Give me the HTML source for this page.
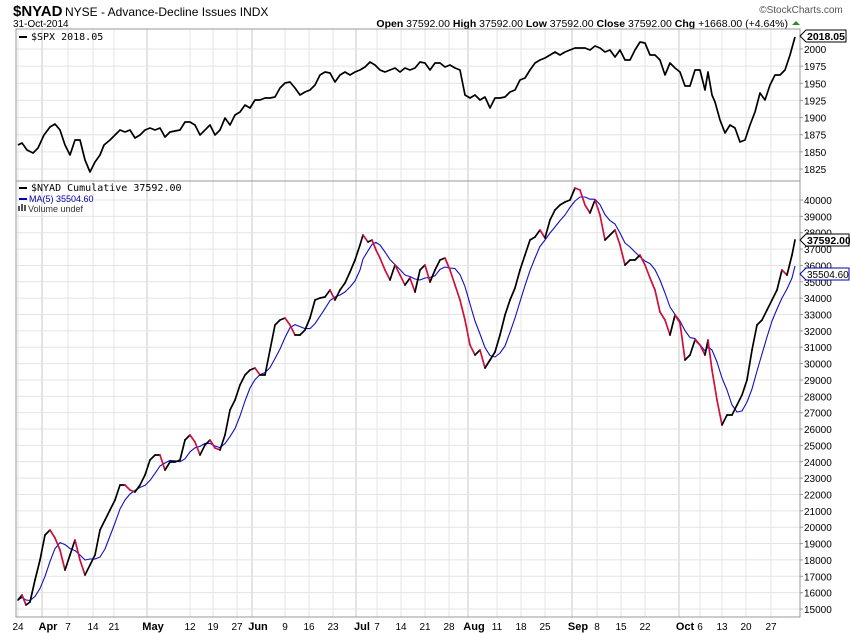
<!DOCTYPE html>
<html><head><meta charset="utf-8"><style>
body{margin:0;background:#fff;width:850px;height:633px;overflow:hidden;font-family:"Liberation Sans",sans-serif}
svg{display:block}
</style></head><body>
<svg id="s" width="850" height="633" xmlns="http://www.w3.org/2000/svg" font-family="Liberation Sans, sans-serif">
<text x="13" y="16" font-size="15" font-weight="bold">$NYAD</text>
<text x="65" y="16" font-size="12">NYSE - Advance-Decline Issues  INDX</text>
<text x="13" y="27" font-size="10">31-Oct-2014</text>
<text x="788" y="27" font-size="10.5" text-anchor="end"><tspan font-weight="bold">Open</tspan> 37592.00  <tspan font-weight="bold">High</tspan> 37592.00  <tspan font-weight="bold">Low</tspan> 37592.00  <tspan font-weight="bold">Close</tspan> 37592.00  <tspan font-weight="bold">Chg</tspan> +1668.00 (+4.64%)</text>
<polygon points="792,25 796,21 800,25" fill="#2a8a2a"/>
<text x="801" y="13" font-size="10" fill="#555" text-anchor="middle">©StockCharts.com</text>
<g id="grid"></g>
<rect x="16" y="29" width="784" height="588" fill="none" stroke="#999"/>
<line x1="16" y1="181" x2="800" y2="181" stroke="#999"/>
<line x1="19" y1="37" x2="27" y2="37" stroke="#000" stroke-width="2"/>
<text x="31" y="40" font-size="10" font-family="DejaVu Sans Mono, monospace">$SPX 2018.05</text>
<g id="series"></g>
<line x1="19" y1="188" x2="27" y2="188" stroke="#000" stroke-width="2"/>
<text x="31" y="191" font-size="10" font-family="DejaVu Sans Mono, monospace">$NYAD Cumulative 37592.00</text>
<line x1="19" y1="199" x2="27" y2="199" stroke="#00a" stroke-width="2"/>
<text x="29" y="202" font-size="9" fill="#00a">MA(5) 35504.60</text>
<rect x="18" y="206" width="2" height="5" fill="#555"/><rect x="21" y="204" width="2" height="7" fill="#555"/><rect x="24" y="205" width="2" height="6" fill="#555"/>
<text x="28" y="212" font-size="9" fill="#333">Volume undef</text>
<g id="axis" font-size="10"></g>
</svg>
<script>
var NS="http://www.w3.org/2000/svg";
function el(p,t,a,txt){var e=document.createElementNS(NS,t);for(var k in a)e.setAttribute(k,a[k]);if(txt!=null)e.textContent=txt;p.appendChild(e);return e;}
var g=document.getElementById('grid'),ax=document.getElementById('axis'),se=document.getElementById('series');
var xl=[[18,"24",0],[48,"Apr",1],[68,"7",0],[93,"14",0],[114,"21",0],[153,"May",1],[190,"12",0],[213,"19",0],[237,"27",0],[258,"Jun",1],[285,"9",0],[309,"16",0],[333,"23",0],[362,"Jul",1],[377,"7",0],[401,"14",0],[425,"21",0],[449,"28",0],[474,"Aug",1],[497,"11",0],[521,"18",0],[545,"25",0],[578,"Sep",1],[597,"8",0],[621,"15",0],[645,"22",0],[685,"Oct",1],[700,"6",0],[722,"13",0],[746,"20",0],[771,"27",0]];
xl.forEach(function(d){var lx=d[2]?d[0]-6:d[0];el(g,'line',{x1:lx,y1:29,x2:lx,y2:617,stroke:d[2]?'#c8c8c8':'#e4e4e4'});
el(ax,'text',{x:d[0],y:630,'text-anchor':'middle','font-weight':d[2]?'bold':'normal','font-size':d[2]?11:10},d[1]);});
for(var v=1825;v<=2000;v+=25){var y=169-(v-1825)*0.686;el(g,'line',{x1:16,y1:y,x2:800,y2:y,stroke:'#e4e4e4'});el(ax,'line',{x1:800,y1:y,x2:803,y2:y,stroke:'#999'});el(ax,'text',{x:804,y:y+4},v);}
for(var v=15000;v<=40000;v+=1000){var y=609-(v-15000)*0.01636;el(g,'line',{x1:16,y1:y,x2:800,y2:y,stroke:'#e4e4e4'});el(ax,'line',{x1:800,y1:y,x2:803,y2:y,stroke:'#999'});el(ax,'text',{x:804,y:y+4},v);}
var spx=[18,145,22,143,27,150,33,153,38,148,44,135,50,127,55,124,60,130,65,145,70,155,75,140,80,140,85,160,90,172,95,162,100,155,104,145,110,140,115,135,120,130,125,132,130,130,135,138,140,135,145,130,150,128,155,130,160,128,165,137,170,132,175,131,180,130,185,122,190,122,195,125,200,135,205,130,210,125,215,135,220,130,225,118,230,125,235,115,240,112,245,105,250,108,255,100,260,100,265,98,270,98,275,97,280,88,285,83,290,82,295,88,300,95,305,92,310,90,315,85,320,75,325,72,330,73,335,82,340,75,345,72,350,75,355,72,360,70,365,67,370,62,375,65,380,70,385,72,390,70,395,68,400,72,405,68,410,70,415,68,420,62,425,63,430,70,435,63,440,63,445,67,450,65,455,68,460,70,465,95,470,98,475,95,480,100,485,97,490,108,495,98,500,98,505,97,510,92,515,90,520,80,525,78,530,70,535,63,540,60,545,58,550,55,555,52,560,55,565,52,570,50,575,48,580,48,585,48,590,50,595,46,600,48,605,52,610,50,615,57,620,50,625,60,630,60,635,50,640,42,645,43,650,55,655,55,660,60,665,75,670,63,675,68,680,72,685,86,690,86,695,70,700,70,705,90,708,72,712,95,715,102,720,120,725,133,730,125,735,128,740,142,745,140,750,125,755,112,760,93,765,100,770,85,775,75,780,75,785,70,790,55,795,37];
var pts="";for(var i=0;i<spx.length;i+=2)pts+=spx[i]+","+spx[i+1]+" ";
el(se,'polyline',{points:pts,fill:'none',stroke:'#000','stroke-width':1.7,'stroke-linejoin':'round'});
var ny=[18,600,22,595,26,605,30,602,35,580,40,560,45,535,50,530,55,538,60,550,65,570,70,555,75,540,80,560,85,575,90,565,95,555,100,530,105,520,110,510,115,500,120,485,125,485,130,490,135,492,140,485,145,475,150,460,155,455,160,455,165,470,170,462,175,462,180,460,185,440,190,435,195,442,200,455,205,445,210,440,215,448,220,450,225,435,230,410,235,400,240,385,245,375,250,370,255,368,260,375,265,375,270,350,275,325,280,320,285,318,290,325,295,335,300,335,305,330,310,318,315,300,320,298,325,297,330,290,335,300,340,290,345,283,350,272,355,260,360,245,363,235,368,242,372,240,376,250,380,258,385,270,390,280,395,265,400,275,405,285,410,278,415,292,420,270,425,265,430,282,435,270,440,260,445,258,450,270,455,285,460,300,465,320,470,345,475,355,480,350,485,368,490,360,495,352,500,335,505,315,510,300,515,288,520,270,525,255,530,240,535,237,540,230,545,238,550,220,555,210,560,205,565,202,570,200,575,188,580,190,585,205,590,213,595,200,600,215,605,240,610,235,615,230,620,245,625,265,630,260,635,260,640,255,645,265,650,278,655,290,660,312,665,320,670,335,675,315,680,323,685,360,690,355,695,340,700,345,705,355,708,340,712,370,717,400,722,425,727,415,732,415,737,405,742,395,747,380,752,350,757,325,762,320,767,310,772,300,777,290,782,270,787,275,792,255,795,240];
var X=[],Y=[];for(var i=0;i<ny.length;i+=2){X.push(ny[i]);Y.push(ny[i+1]);}
var mp="";for(var i=0;i<X.length;i++){var s=0,n=0;for(var j=Math.max(0,i-4);j<=i;j++){s+=Y[j];n++;}mp+=X[i]+","+(s/n)+" ";}
el(se,'polyline',{points:mp,fill:'none',stroke:'#1010c0','stroke-width':1.1,'stroke-linejoin':'round'});
for(var i=1;i<X.length;i++){el(se,'line',{x1:X[i-1],y1:Y[i-1],x2:X[i],y2:Y[i],stroke:Y[i]>Y[i-1]?'#d0103a':'#000','stroke-width':1.7,'stroke-linecap':'round'});}
function tag(y,txt,w){el(ax,'polygon',{points:"800,"+y+" 806,"+(y-6)+" "+(806+w)+","+(y-6)+" "+(806+w)+","+(y+6)+" 806,"+(y+6),fill:'#fff',stroke:'#000'});el(ax,'text',{x:807,y:y+4,'font-weight':'bold','font-size':10.5},txt);}
tag(36,"2018.05",40);tag(240,"37592.00",43);
el(ax,'polygon',{points:"800,274 806,268 849,268 849,280 806,280 800,274",fill:'#fff',stroke:'#00a'});el(ax,'text',{x:807,y:278,'font-size':10},"35504.60");
</script>
</body></html>
